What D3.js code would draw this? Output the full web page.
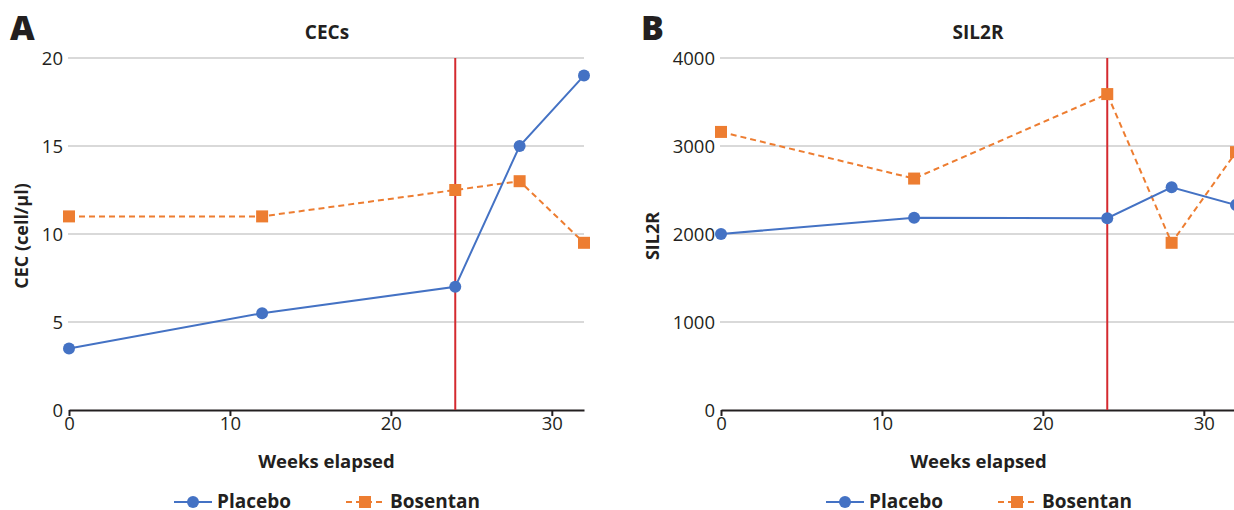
<!DOCTYPE html>
<html>
<head>
<meta charset="utf-8">
<script src="https://cdn.jsdelivr.net/npm/d3@7"></script>
<style>
  body { margin: 0; background: #fff; }
  text { font-family: "Open Sans", sans-serif; fill: #231f20; }
</style>
</head>
<body>
<script>
// weeks when samples were taken
const weeks = [0, 12, 24, 28, 32];
const treatmentWeek = 24;

// panel A: circulating endothelial cells
const cecPlacebo = [3.5, 5.5, 7.0, 15.0, 19.0];
const cecBosentan = [11.0, 11.0, 12.5, 13.0, 9.5];
const cecTicks = [0, 5, 10, 15, 20];

// panel B: soluble IL-2 receptor
const sil2rPlacebo = [2000, 2185, 2180, 2530, 2330];
const sil2rBosentan = [3160, 2630, 3590, 1900, 2930];
const sil2rTicks = [0, 1000, 2000, 3000, 4000];

const xTicks = [0, 10, 20, 30];
const seriesNames = ['Placebo', 'Bosentan'];
const blue = '#4472c4';
const orange = '#ed7d31';

const svg = d3.select('body')
    .append('svg')
    .attr('width', 1234)
    .attr('height', 510);

function drawPanel(opts) {
    const left = opts.left;
    const top = 58, bottom = 410;
    const x = d3.scaleLinear().domain([0, 32]).range([left, left + 515]);
    const y = d3.scaleLinear().domain([0, opts.yMax]).range([bottom, top]);
    const g = svg.append('g');

    // gridlines
    g.selectAll('.grid')
        .data(opts.yTicks.filter(t => t > 0))
        .enter()
        .append('line')
        .attr('x1', x(0) - 1)
        .attr('x2', x(32))
        .attr('y1', d => y(d))
        .attr('y2', d => y(d))
        .attr('stroke', '#d9d9d9')
        .attr('stroke-width', 2);

    // y tick labels
    g.selectAll('.ytick')
        .data(opts.yTicks)
        .enter()
        .append('text')
        .attr('x', x(0) - 6)
        .attr('y', d => y(d))
        .attr('dy', '0.36em')
        .attr('text-anchor', 'end')
        .style('font-size', '18.5px')
        .text(d => d);

    // x axis
    const xAxis = d3.axisBottom(x).tickValues(xTicks).tickSize(6).tickSizeOuter(0);
    const ax = g.append('g')
        .attr('transform', `translate(0,${bottom})`)
        .call(xAxis);
    ax.select('.domain').attr('stroke', '#231f20').attr('stroke-width', 2);
    ax.selectAll('.tick line').attr('stroke', '#231f20').attr('stroke-width', 2);
    ax.selectAll('.tick text')
        .attr('y', 7)
        .style('font-size', '18.5px')
        .style('font-family', '"Open Sans", sans-serif')
        .attr('fill', '#231f20');

    // treatment switch line
    g.append('line')
        .attr('x1', x(treatmentWeek))
        .attr('x2', x(treatmentWeek))
        .attr('y1', top)
        .attr('y2', bottom)
        .attr('stroke', '#d42a2f')
        .attr('stroke-width', 2);

    const line = d3.line().x((d, i) => x(weeks[i])).y(d => y(d));

    // bosentan (dashed, squares)
    g.append('path')
        .datum(opts.bosentan)
        .attr('d', line)
        .attr('fill', 'none')
        .attr('stroke', orange)
        .attr('stroke-width', 2)
        .attr('stroke-dasharray', '6,4');
    g.selectAll('.sq')
        .data(opts.bosentan)
        .enter()
        .append('rect')
        .attr('x', (d, i) => x(weeks[i]) - 6)
        .attr('y', d => y(d) - 6)
        .attr('width', 12)
        .attr('height', 12)
        .attr('fill', orange);

    // placebo (solid, circles)
    g.append('path')
        .datum(opts.placebo)
        .attr('d', line)
        .attr('fill', 'none')
        .attr('stroke', blue)
        .attr('stroke-width', 2);
    g.selectAll('.dot')
        .data(opts.placebo)
        .enter()
        .append('circle')
        .attr('cx', (d, i) => x(weeks[i]))
        .attr('cy', d => y(d))
        .attr('r', 6)
        .attr('fill', blue);

    // titles
    g.append('text')
        .attr('x', opts.letterX)
        .attr('y', 40)
        .style('font-size', '34px')
        .style('font-weight', 800)
        .text(opts.letter);
    g.append('text')
        .attr('x', opts.titleX)
        .attr('y', 39)
        .attr('text-anchor', 'middle')
        .style('font-size', '19px')
        .style('font-weight', 700)
        .text(opts.title);
    g.append('text')
        .attr('transform', `translate(${opts.yLabelX},${(top + bottom) / 2 + 2}) rotate(-90)`)
        .attr('text-anchor', 'middle')
        .style('font-size', '18px')
        .style('font-weight', 700)
        .text(opts.yLabel);
    g.append('text')
        .attr('x', (x(0) + x(32)) / 2)
        .attr('y', 468)
        .attr('text-anchor', 'middle')
        .style('font-size', '18.5px')
        .style('font-weight', 700)
        .text('Weeks elapsed');

    // legend
    const lx = opts.legendX;
    const leg = g.append('g').attr('transform', `translate(${lx},502)`);
    leg.append('line').attr('x1', 0).attr('x2', 38).attr('stroke', blue).attr('stroke-width', 2);
    leg.append('circle').attr('cx', 19).attr('r', 6).attr('fill', blue);
    leg.append('text').attr('x', 43).attr('y', 6)
        .style('font-size', '19px').style('font-weight', 700).text(seriesNames[0]);
    leg.append('line').attr('x1', 172).attr('x2', 210).attr('stroke', orange)
        .attr('stroke-width', 2).attr('stroke-dasharray', '6,4');
    leg.append('rect').attr('x', 185).attr('y', -6).attr('width', 12).attr('height', 12).attr('fill', orange);
    leg.append('text').attr('x', 216).attr('y', 6)
        .style('font-size', '19px').style('font-weight', 700).text(seriesNames[1]);
}

drawPanel({
    left: 69, yMax: 20, yTicks: cecTicks,
    placebo: cecPlacebo, bosentan: cecBosentan,
    letter: 'A', letterX: 10, title: 'CECs', titleX: 327,
    yLabel: 'CEC (cell/\u03bcl)', yLabelX: 28, legendX: 174
});

drawPanel({
    left: 721, yMax: 4000, yTicks: sil2rTicks,
    placebo: sil2rPlacebo, bosentan: sil2rBosentan,
    letter: 'B', letterX: 641, title: 'SIL2R', titleX: 978,
    yLabel: 'SIL2R', yLabelX: 659, legendX: 826
});
</script>
</body>
</html>
